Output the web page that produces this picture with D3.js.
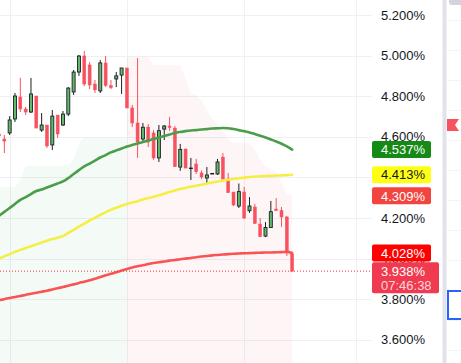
<!DOCTYPE html>
<html><head>
<meta charset="utf-8">
<script src="https://d3js.org/d3.v7.min.js"></script>
<style>
  body { margin: 0; background: #fff; }
  svg text { font-family: "Liberation Sans", Arial, sans-serif; }
</style>
</head>
<body>
<div id="chart"></div>
<script>

// ---- data (yield, %) ----
const opens  = [4.614,4.589,4.619,4.688,4.796,4.737,4.722,4.801,4.633,4.658,4.560,4.707,4.658,4.712,4.821,4.919,4.998,4.954,4.860,4.826,4.964,4.852,4.885,4.904,4.939,4.742,4.668,4.589,4.648,4.619,4.496,4.638,4.653,4.643,4.451,4.540,4.446,4.466,4.422,4.397,4.419,4.417,4.500,4.392,4.328,4.259,4.328,4.236,4.254,4.170,4.111,4.153,4.244,4.237,4.205,4.023];
const highs  = [4.619,4.609,4.702,4.816,4.890,4.747,4.890,4.801,4.717,4.658,4.732,4.707,4.727,4.845,4.929,5.003,5.023,4.968,4.880,4.978,4.998,4.880,4.919,4.939,4.939,4.757,4.988,4.668,4.663,4.633,4.658,4.658,4.698,4.653,4.565,4.540,4.496,4.491,4.434,4.451,4.422,4.491,4.520,4.422,4.328,4.370,4.353,4.303,4.269,4.200,4.180,4.284,4.298,4.254,4.210,4.023];
const lows   = [4.584,4.520,4.609,4.673,4.722,4.707,4.717,4.643,4.624,4.545,4.535,4.594,4.653,4.702,4.806,4.900,4.850,4.835,4.816,4.816,4.845,4.835,4.845,4.811,4.742,4.648,4.496,4.579,4.550,4.486,4.476,4.584,4.629,4.451,4.432,4.446,4.387,4.417,4.392,4.367,4.417,4.412,4.387,4.323,4.259,4.249,4.195,4.225,4.170,4.106,4.106,4.151,4.237,4.156,4.013,3.938];
const closes = [4.604,4.579,4.683,4.801,4.737,4.722,4.811,4.643,4.658,4.555,4.702,4.614,4.712,4.840,4.919,4.998,4.860,4.855,4.831,4.964,4.853,4.842,4.900,4.939,4.742,4.668,4.574,4.647,4.574,4.496,4.630,4.653,4.648,4.453,4.538,4.446,4.446,4.428,4.402,4.412,4.419,4.476,4.392,4.325,4.264,4.330,4.200,4.259,4.173,4.108,4.153,4.231,4.239,4.205,4.028,3.938];

const maGreen  = [4.210,4.230,4.249,4.269,4.289,4.303,4.318,4.333,4.340,4.350,4.360,4.370,4.380,4.397,4.417,4.436,4.454,4.468,4.483,4.498,4.510,4.523,4.533,4.542,4.552,4.560,4.567,4.574,4.582,4.589,4.597,4.604,4.611,4.619,4.624,4.628,4.631,4.633,4.636,4.638,4.641,4.642,4.643,4.642,4.638,4.633,4.628,4.621,4.614,4.605,4.597,4.587,4.577,4.566,4.553,4.537];
const maYellow = [4.001,4.011,4.022,4.033,4.043,4.052,4.061,4.070,4.079,4.088,4.096,4.103,4.111,4.127,4.142,4.157,4.172,4.187,4.201,4.215,4.228,4.241,4.251,4.260,4.269,4.276,4.283,4.291,4.298,4.305,4.312,4.320,4.328,4.336,4.343,4.348,4.354,4.359,4.364,4.369,4.375,4.380,4.384,4.388,4.392,4.396,4.399,4.402,4.404,4.406,4.407,4.408,4.409,4.410,4.411,4.413];
const maRed    = [3.795,3.800,3.806,3.811,3.816,3.821,3.827,3.832,3.837,3.842,3.848,3.854,3.860,3.866,3.873,3.880,3.886,3.893,3.901,3.909,3.918,3.925,3.933,3.941,3.949,3.956,3.962,3.967,3.973,3.978,3.982,3.986,3.990,3.993,3.997,4.000,4.003,4.007,4.010,4.013,4.016,4.018,4.020,4.022,4.024,4.025,4.026,4.027,4.028,4.029,4.030,4.030,4.031,4.032,4.033,4.028];

// background bands: green one covers bars 0..24, red one bars 24..55
const greenBandTop = [4.353,4.353,4.353,4.353,4.387,4.456,4.456,4.456,4.456,4.456,4.456,4.456,4.456,4.461,4.486,4.569,4.595,4.595,4.595,4.595,4.595,4.595,4.595,4.595,4.595];
const redBandTop   = [4.993,4.993,4.993,4.993,4.993,4.954,4.954,4.954,4.954,4.954,4.954,4.890,4.811,4.806,4.781,4.732,4.688,4.658,4.624,4.589,4.569,4.569,4.569,4.569,4.535,4.486,4.456,4.441,4.427,4.377,4.318,4.309];
const redBandStart = 24;

const priceTicks = [3.6, 3.8, 4.0, 4.2, 4.4, 4.6, 4.8, 5.0, 5.2];
const timeTicks = [2, 24, 46, 67];   // bar index of the vertical grid lines
const lastPrice = 3.938;
const countdown = "07:46:38";

// ---- layout ----
const width = 461, height = 363;
const paneRight = 372;      // price scale starts here
const svg = d3.select("#chart").append("svg").attr("width", width).attr("height", height);

const xScale = d3.scaleLinear().domain([0, 55]).range([-1, 292.15]);
const yScale = d3.scaleLinear().domain([3.6, 5.2]).range([339.8, 15]);
const bottomPrice = yScale.invert(height);

// grid
svg.append("g").selectAll("line").data(priceTicks).join("line")
   .attr("x1", 0).attr("x2", paneRight)
   .attr("y1", d => Math.round(yScale(d)) + 0.5).attr("y2", d => Math.round(yScale(d)) + 0.5)
   .attr("stroke", "#eef0f3");
svg.append("g").selectAll("line").data(timeTicks).join("line")
   .attr("x1", d => Math.round(xScale(d)) + 0.5).attr("x2", d => Math.round(xScale(d)) + 0.5)
   .attr("y1", 0).attr("y2", height)
   .attr("stroke", "#eef0f3");

// bands
const bandArea = d3.area()
  .x(d => xScale(d.i))
  .y0(yScale(bottomPrice))
  .y1(d => yScale(d.v));
svg.append("path")
   .attr("d", bandArea(greenBandTop.map((v, i) => ({i: i, v: v}))))
   .attr("fill", "rgba(76,175,80,0.06)");
svg.append("path")
   .attr("d", bandArea(redBandTop.map((v, i) => ({i: i + redBandStart, v: v}))))
   .attr("fill", "rgba(242,54,69,0.05)");

// candles
const candles = opens.map((o, i) => ({i: i, o: o, h: highs[i], l: lows[i], c: closes[i]}));
const bodyW = 3;
const cg = svg.append("g");
candles.forEach(d => {
  const up = d.c >= d.o;
  const x = xScale(d.i);
  const top = yScale(Math.max(d.o, d.c));
  const bot = yScale(Math.min(d.o, d.c));
  cg.append("line")
    .attr("x1", x).attr("x2", x)
    .attr("y1", yScale(d.h)).attr("y2", yScale(d.l))
    .attr("stroke", up ? "#1b1f24" : "#f7525f").attr("stroke-width", 1);
  cg.append("rect")
    .attr("x", x - bodyW / 2).attr("width", bodyW)
    .attr("y", top).attr("height", Math.max(bot - top, up ? 0.5 : 1.5))
    .attr("fill", up ? "#63b96a" : "#f7525f")
    .attr("stroke", up ? "#1b1f24" : "#f7525f")
    .attr("stroke-width", up ? 0.9 : 0.5);
});

// moving averages
const maLine = d3.line().x((d, i) => xScale(i)).y(d => yScale(d)).curve(d3.curveMonotoneX);
[[maGreen, "#4a9e4a"], [maYellow, "#f5ef45"], [maRed, "#f95454"]].forEach(([vals, col]) => {
  svg.append("path").attr("d", maLine(vals))
     .attr("fill", "none").attr("stroke", col).attr("stroke-width", 2.6)
     .attr("stroke-linejoin", "round").attr("stroke-linecap", "round");
});

// last price dotted line
svg.append("line")
   .attr("x1", 0).attr("x2", paneRight)
   .attr("y1", yScale(lastPrice)).attr("y2", yScale(lastPrice))
   .attr("stroke", "#f23645").attr("stroke-dasharray", "1,2").attr("stroke-width", 1);

// price scale labels
svg.append("g").selectAll("text").data(priceTicks).join("text")
   .attr("x", 381).attr("y", d => yScale(d)).attr("dy", "0.36em")
   .attr("font-size", 13).attr("fill", "#131722")
   .text(d => d.toFixed(3) + "%");

// value badges on the price scale
const badges = [
  {v: maGreen[maGreen.length - 1], bg: "#168a16", fg: "#ffffff"},
  {v: maYellow[maYellow.length - 1], bg: "#ffff14", fg: "#131722"},
  {v: redBandTop[redBandTop.length - 1], bg: "#f2453f", fg: "#ffffff"},
  {v: maRed[maRed.length - 1], bg: "#ff0000", fg: "#ffffff"}
];
badges.forEach(b => {
  const y = yScale(b.v);
  svg.append("rect").attr("x", 372).attr("y", y - 8.5).attr("width", 59).attr("height", 17)
     .attr("rx", 2).attr("fill", b.bg);
  svg.append("text").attr("x", 381).attr("y", y).attr("dy", "0.36em")
     .attr("font-size", 13).attr("fill", b.fg).text(b.v.toFixed(3) + "%");
});

// last price badge with countdown
const ly = yScale(lastPrice);
svg.append("rect").attr("x", 372).attr("y", ly - 9).attr("width", 67).attr("height", 31)
   .attr("rx", 2).attr("fill", "#f03a4f");
svg.append("text").attr("x", 381).attr("y", ly).attr("dy", "0.36em")
   .attr("font-size", 13).attr("fill", "#ffffff").text(lastPrice.toFixed(3) + "%");
svg.append("text").attr("x", 381).attr("y", ly + 14).attr("dy", "0.36em")
   .attr("font-size", 13).attr("fill", "#ffffff").attr("fill-opacity", 0.8).text(countdown);

// right-hand toolbar strip
svg.append("rect").attr("x", 442.5).attr("y", 0).attr("width", 4).attr("height", height).attr("fill", "#e0e3eb");
svg.append("g").selectAll("line").data(d3.range(20, height, 30)).join("line")
   .attr("x1", 447).attr("x2", width).attr("y1", d => d + 0.5).attr("y2", d => d + 0.5)
   .attr("stroke", "#f0f3fa");
svg.append("rect").attr("x", 449).attr("y", -4).attr("width", 14).attr("height", 9).attr("rx", 3).attr("fill", "#d1d4dc");
svg.append("polygon").attr("points", "447,119 459,119 455,125 459,131 447,131").attr("fill", "#f7525f");
svg.append("rect").attr("x", 448).attr("y", 291).attr("width", 16).attr("height", 28)
   .attr("fill", "#fff").attr("stroke", "#2962ff").attr("stroke-width", 2);

</script>
</body>
</html>
